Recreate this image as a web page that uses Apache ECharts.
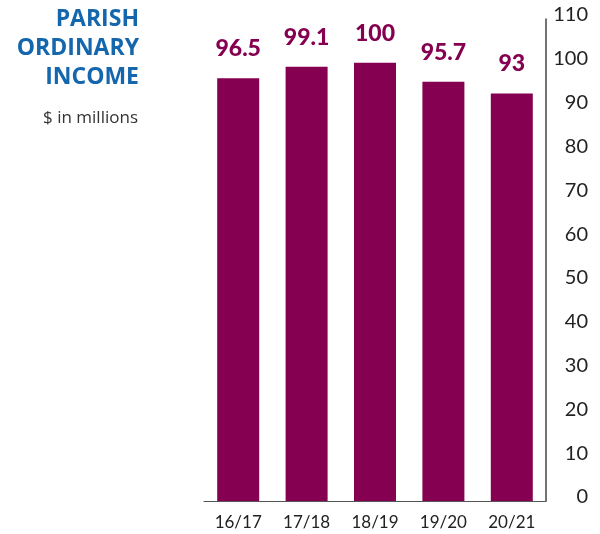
<!DOCTYPE html>
<html><head><meta charset="utf-8">
<script src="https://cdn.jsdelivr.net/npm/echarts@6/dist/echarts.min.js"></script>
<style>html,body{margin:0;padding:0;background:#fff}#c{width:600px;height:534px}</style>
</head><body><div id="c"></div>
<script>
const categories = ['16/17', '17/18', '18/19', '19/20', '20/21'];
const incomeValues = [96.5, 99.1, 100, 95.7, 93];
const yTicks = [0, 10, 20, 30, 40, 50, 60, 70, 80, 90, 100, 110];

const chart = echarts.init(document.getElementById('c'));
chart.setOption({
  animation: false,
  backgroundColor: '#fff',
  graphic: [
    { type: 'text', x: 139, y: 5,
      style: { text: 'PARISH\nORDINARY\nINCOME', align: 'right', verticalAlign: 'top',
        font: 'bold 23px "Open Sans"', lineHeight: 29, fill: '#1466ad' } },
    { type: 'text', x: 138, y: 110,
      style: { text: '$ in millions', align: 'right', verticalAlign: 'top',
        font: '17px "Open Sans"', fill: '#333' } }
  ],
  grid: { left: 204, right: 54, top: 19, bottom: 33, containLabel: false },
  xAxis: {
    type: 'category', data: categories,
    axisLine: { show: true, lineStyle: { color: '#555', width: 1 } },
    axisTick: { show: false },
    axisLabel: { fontFamily: 'Lato', fontSize: 17, color: '#222', margin: 13 }
  },
  yAxis: {
    type: 'value', position: 'right', min: 0, max: 110, interval: 10,
    axisLine: { show: true, lineStyle: { color: '#444', width: 1.5 } },
    axisTick: { show: false },
    splitLine: { show: false },
    axisLabel: { fontFamily: 'Lato', fontSize: 20, color: '#222', align: 'right', margin: 42,
      verticalAlign: 'bottom', lineHeight: 8,
      formatter: v => yTicks.includes(v) ? String(v) : '' }
  },
  series: [{
    type: 'bar', data: incomeValues, barWidth: 42,
    itemStyle: { color: '#850050' },
    label: { show: true, position: 'top', distance: 18, fontFamily: 'Lato', fontWeight: 900,
      fontSize: 23, color: '#850050' }
  }]
});
</script></body></html>
